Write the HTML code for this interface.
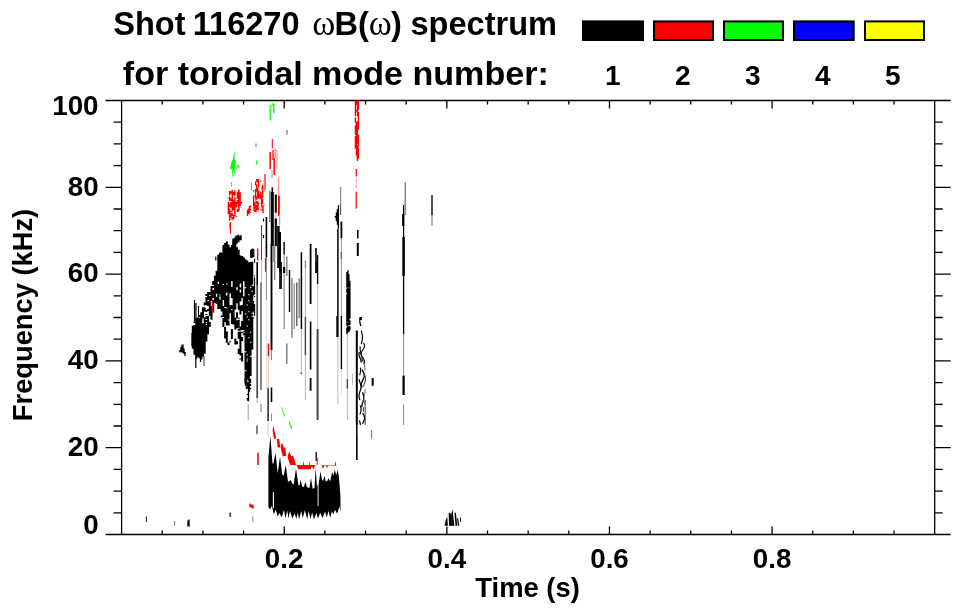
<!DOCTYPE html>
<html><head><meta charset="utf-8"><title>Shot 116270 spectrum</title>
<style>
html,body{margin:0;padding:0;background:#fff;}
svg{display:block;}
text{font-family:"Liberation Sans",sans-serif;font-weight:bold;fill:#000;}
.om{font-family:"Liberation Serif",serif;font-weight:normal;}
</style></head><body>
<svg width="963" height="615" viewBox="0 0 963 615">
<rect width="963" height="615" fill="#fff"/>
<text y="35" font-size="32.6"><tspan x="113.2">Shot </tspan><tspan x="192.7">116270 </tspan><tspan x="312.3" class="om" font-size="35">ω</tspan><tspan x="334.5">B(</tspan><tspan x="368.7" class="om" font-size="35">ω</tspan><tspan x="391">) </tspan><tspan x="410.4">spectrum</tspan></text>
<text x="122.8" y="85.3" font-size="34.1">for toroidal mode number:</text>
<rect x="583" y="21.4" width="60.0" height="18.6" fill="#000" stroke="#000" stroke-width="2"/>
<text x="612.8" y="85.2" font-size="28" text-anchor="middle">1</text>
<rect x="654" y="21.4" width="59.0" height="18.6" fill="#f00" stroke="#000" stroke-width="2"/>
<text x="682.8" y="85.2" font-size="28" text-anchor="middle">2</text>
<rect x="724" y="21.4" width="59.0" height="18.6" fill="#0f0" stroke="#000" stroke-width="2"/>
<text x="752.8" y="85.2" font-size="28" text-anchor="middle">3</text>
<rect x="794" y="21.4" width="59.7" height="18.6" fill="#00f" stroke="#000" stroke-width="2"/>
<text x="822.8" y="85.2" font-size="28" text-anchor="middle">4</text>
<rect x="865" y="21.4" width="59.0" height="18.6" fill="#ff0" stroke="#000" stroke-width="2"/>
<text x="892.8" y="85.2" font-size="28" text-anchor="middle">5</text>
<g stroke="#000" stroke-width="1.3" fill="none" stroke-linecap="butt">
<path d="M121.6 100.5H934.7M121.6 534.5H934.7M121.6 100.5V534.5M934.7 100.5V534.5"/>
<path d="M162.25 534.5v-4M162.25 100.5v4M202.91 534.5v-4M202.91 100.5v4M243.56 534.5v-4M243.56 100.5v4M284.22 534.5v-8M284.22 100.5v8M324.88 534.5v-4M324.88 100.5v4M365.53 534.5v-4M365.53 100.5v4M406.19 534.5v-4M406.19 100.5v4M446.84 534.5v-8M446.84 100.5v8M487.50 534.5v-4M487.50 100.5v4M528.15 534.5v-4M528.15 100.5v4M568.81 534.5v-4M568.81 100.5v4M609.46 534.5v-8M609.46 100.5v8M650.12 534.5v-4M650.12 100.5v4M690.77 534.5v-4M690.77 100.5v4M731.43 534.5v-4M731.43 100.5v4M772.08 534.5v-8M772.08 100.5v8M812.74 534.5v-4M812.74 100.5v4M853.39 534.5v-4M853.39 100.5v4M894.05 534.5v-4M894.05 100.5v4M121.6 534.50h-16M934.7 534.50h16M121.6 512.80h-8M934.7 512.80h8M121.6 491.10h-8M934.7 491.10h8M121.6 469.40h-8M934.7 469.40h8M121.6 447.70h-16M934.7 447.70h16M121.6 426.00h-8M934.7 426.00h8M121.6 404.30h-8M934.7 404.30h8M121.6 382.60h-8M934.7 382.60h8M121.6 360.90h-16M934.7 360.90h16M121.6 339.20h-8M934.7 339.20h8M121.6 317.50h-8M934.7 317.50h8M121.6 295.80h-8M934.7 295.80h8M121.6 274.10h-16M934.7 274.10h16M121.6 252.40h-8M934.7 252.40h8M121.6 230.70h-8M934.7 230.70h8M121.6 209.00h-8M934.7 209.00h8M121.6 187.30h-16M934.7 187.30h16M121.6 165.60h-8M934.7 165.60h8M121.6 143.90h-8M934.7 143.90h8M121.6 122.20h-8M934.7 122.20h8M121.6 100.50h-16M934.7 100.50h16"/>
</g>
<text x="98.6" y="533.8" font-size="27.8" text-anchor="end">0</text>
<text x="98.6" y="455.9" font-size="27.8" text-anchor="end">20</text>
<text x="98.6" y="369.1" font-size="27.8" text-anchor="end">40</text>
<text x="98.6" y="282.3" font-size="27.8" text-anchor="end">60</text>
<text x="98.6" y="195.5" font-size="27.8" text-anchor="end">80</text>
<text x="98.6" y="115.3" font-size="27.8" text-anchor="end">100</text>
<text x="284.2" y="568.4" font-size="27.8" text-anchor="middle">0.2</text>
<text x="446.8" y="568.4" font-size="27.8" text-anchor="middle">0.4</text>
<text x="609.5" y="568.4" font-size="27.8" text-anchor="middle">0.6</text>
<text x="772.1" y="568.4" font-size="27.8" text-anchor="middle">0.8</text>
<text x="527.6" y="597.2" font-size="27.4" text-anchor="middle">Time (s)</text>
<text transform="translate(32 315) rotate(-90)" font-size="27.3" text-anchor="middle">Frequency (kHz)</text>
<g id="spectrum">
<path d="M268.4 507.0L268.4 445.0L268.4 457.5L270.4 436.0L272.4 462.7L273.3 464.2L275.5 452.7L277.7 472.8L277.8 473.0L280.0 456.4L282.2 474.3L283.6 475.7L285.8 464.9L288.0 481.8L289.2 481.2L290.5 480.0L291.8 482.4L293.6 484.8L296.0 468.6L298.4 485.1L299.3 486.1L300.7 479.8L302.1 486.2L303.9 487.0L305.4 481.7L306.9 487.0L309.4 488.3L311.0 478.0L312.6 488.7L314.5 488.0L315.7 467.7L316.9 486.6L318.8 483.2L320.4 471.4L322.0 479.5L323.1 481.1L324.5 476.0L325.9 481.4L327.3 481.1L328.5 478.0L329.7 481.1L330.6 479.9L332.0 472.0L333.4 475.4L333.4 475.9L334.8 469.5L336.2 475.3L336.3 475.0L337.6 470.0L338.9 476.8L338.6 474.0L339.6 485.0L340.4 496.0L340.6 512.0L339.4 506.3L337.2 513.8L334.9 509.7L333.5 514.2L331.9 511.6L330.2 517.8L328.5 511.1L326.8 517.2L324.9 511.5L322.6 518.3L320.2 512.8L317.9 518.4L316.4 512.9L314.0 519.2L312.1 512.5L310.6 519.1L308.6 510.9L307.3 519.3L304.9 510.2L302.7 518.1L301.2 511.1L299.1 519.6L297.7 512.4L296.4 519.1L294.7 513.4L292.3 518.3L289.9 511.0L288.6 518.5L287.2 510.5L285.5 518.5L284.0 509.8L281.7 517.5L279.4 513.1L277.7 516.6L275.8 509.4L273.8 514.4L271.9 505.7L270.0 509.5Z" fill="#000"/>
<path d="M272.6 430.4L273.5 426.0L276.2 438.4L274.0 438.9Z" fill="#f00"/>
<path d="M276.7 439.1L279.1 438.9L280.4 447.4L277.7 447.6Z" fill="#f00"/>
<path d="M280.9 444.9L282.2 443.1L283.6 447.2L285.3 447.7L286.2 455.9L282.7 456.2L280.9 448.4Z" fill="#f00"/>
<path d="M287.9 455.3L289.3 451.4L291.1 456.0L293.2 456.0L296.1 464.9L290.2 464.9L287.6 457.5Z" fill="#f00"/>
<path d="M296.6 465.1L303.0 465.1L303.6 460.7L304.3 465.1L308.9 465.1L309.4 460.7L310.1 465.1L315.2 465.1L313.8 469.2L311.8 466.5L310.5 469.2L298.1 469.2Z" fill="#f00"/>
<path d="M316.3 464.9L317.2 456.4L318.5 460.0L317.6 464.9Z" fill="#f55"/>
<path d="M321.7 465.3L328.1 465.3L327.1 468.8L326.3 465.8L325.3 465.8L324.3 465.8L323.0 469.2Z" fill="#f00"/>
<path d="M328.1 464.9L334.6 464.9L335.4 460.7L336.2 465.5L328.1 465.5Z" fill="#f00"/>
<path d="M288.9 421.7L289.7 421.2L291.0 425.4L292.2 426.2L291.8 429.6L291.0 429.1L290.2 425.8L289.2 423.7Z" fill="#0f0"/>
<path d="M444.5 525.7L445.5 521.0L447.3 516.6L447.9 525.7Z" fill="#000"/>
<path d="M448.7 512.8L450.5 512.8L452.2 525.7L449.0 525.7Z" fill="#000"/>
<path d="M451.0 515.5L452.4 509.2L453.0 514.0L454.4 525.7L452.0 525.7L451.3 520.0Z" fill="#000"/>
<path d="M454.5 512.8L455.9 512.8L457.2 525.7L455.5 525.7Z" fill="#000"/>
<path d="M457.0 518.2L458.1 518.2L459.3 525.7L457.9 525.7Z" fill="#000"/>
<path d="M460.0 517.4L460.9 517.4L460.9 522.0L460.0 522.0Z" fill="#000"/>
<path d="M230.0 169.2L231.5 161.8L232.9 159.6L233.9 153.2L234.8 152.3L234.5 159.6L235.9 160.7L235.2 166.2L234.5 169.2L235.2 173.2L234.4 173.9L233.0 169.9L232.6 177.2L232.0 177.2L232.2 168.6L230.7 169.3Z" fill="#0f0"/>
<path d="M236.1 169.3L236.5 165.9L238.4 164.8L239.2 167.0L238.4 168.6L238.0 166.4L237.0 167.0L236.7 169.6Z" fill="#0f0"/>
<path d="M255.9 160.7L257.2 160.4L256.8 164.8L256.1 164.5Z" fill="#0f0"/>
<path d="M230.9 182.3L232.1 182.0L231.8 186.7L231.1 186.4Z" fill="#0f0"/>
<path d="M192.8 325.8V348.7M194.5 321.9V322.9M194.5 324.9V354.7M196.2 318.2V358.7M197.9 317.7V357.2M199.6 315.0V317.0M199.6 318.0V358.3M201.3 312.2V359.5M203.0 307.2V318.2M203.0 323.2V356.7M204.7 302.6V305.6M204.7 307.6V311.6M204.7 317.6V353.8M206.4 293.9V295.9M206.4 296.9V304.9M206.4 309.9V311.9M206.4 313.9V314.9M206.4 315.9V318.9M206.4 319.9V321.9M206.4 322.9V323.9M206.4 324.9V341.4M208.1 291.9V299.9M208.1 300.9V305.9M208.1 308.9V310.9M208.1 315.9V334.2M209.8 291.9V294.9M209.8 295.9V315.9M209.8 321.9V326.8M211.5 286.0V301.0M211.5 306.0V319.8M213.2 281.0V285.0M213.2 286.0V288.0M213.2 290.0V298.0M213.2 300.0V312.5M214.9 275.8V303.0M216.6 270.7V293.7M216.6 296.7V303.8M218.3 254.8V281.8M218.3 283.8V309.0M220.0 252.4V294.4M220.0 295.4V296.4M220.0 299.4V309.1M221.7 252.4V311.4M221.7 315.4V317.2M223.4 244.9V283.9M223.4 284.9V299.9M223.4 305.9V316.9M223.4 317.9V326.9M225.1 242.9V306.9M225.1 307.9V321.9M225.1 326.9V338.4M226.8 241.5V283.5M226.8 284.5V292.5M226.8 295.5V307.5M226.8 308.5V325.5M226.8 331.5V342.7M228.5 244.6V319.6M228.5 320.6V325.6M228.5 342.6V345.0M230.2 247.3V293.3M230.2 305.3V313.3M230.2 341.3V342.3M231.9 245.0V281.0M231.9 287.0V298.0M231.9 305.0V309.0M231.9 310.0V324.0M231.9 329.0V339.0M233.6 240.5V324.5M235.3 243.6V309.6M235.3 317.6V329.6M235.3 338.6V344.6M237.0 247.2V287.2M237.0 290.2V303.2M237.0 312.2V318.2M237.0 320.2V328.2M237.0 341.2V344.2M238.7 249.8V309.8M238.7 317.8V318.8M238.7 319.8V327.8M238.7 328.8V330.8M238.7 331.8V338.8M238.7 348.8V354.0M240.4 255.6V283.6M240.4 287.6V289.6M240.4 292.6V301.6M240.4 305.6V314.6M240.4 326.6V330.6M240.4 331.6V355.6M240.4 358.6V359.6M242.1 256.0V298.0M242.1 305.0V311.0M242.1 321.0V330.0M242.1 332.0V333.0M242.1 337.0V341.0M242.1 353.0V361.5M243.8 257.3V281.3M243.8 296.3V330.3M243.8 331.3V332.3M243.8 333.3V335.3M245.5 259.3V287.3M245.5 288.3V313.3M245.5 314.3V351.3M245.5 352.3V370.3M245.5 371.3V383.4M247.2 260.5V304.5M247.2 305.5V316.5M247.2 317.5V325.5M247.2 326.5V354.5M247.2 355.5V358.5M247.2 359.5V360.5M247.2 361.5V379.5M248.9 262.3V294.3M248.9 295.3V300.3M248.9 301.3V311.3M248.9 312.3V319.3M248.9 320.3V337.3M248.9 338.3V381.2M250.6 261.7V286.7M250.6 287.7V331.7M250.6 332.7V341.7M250.6 342.7V355.7M250.6 356.7V376.0M252.3 261.8V284.8M252.3 285.8V290.8M252.3 291.8V312.8M252.3 313.8V315.8M252.3 316.8V349.4M275.8 194.6V212.8M280.0 232.0V272.0M357.8 243.0V256.0M360.8 317.0V320.0M356.8 330.5V425.0M372.7 378.0V385.7" stroke="#000" stroke-width="2.0" fill="none"/>
<path d="M245.5 378.5V385.9M246.5 378.8V384.8M246.5 385.8V388.9M247.5 382.0V388.8M247.5 393.9V395.0M247.5 397.9V400.7M248.5 378.1V381.1M248.5 382.1V401.2M249.5 379.3V391.7M250.5 378.7V383.1M250.5 384.1V385.9M250.5 388.0V389.1M233.0 238.4V246.2M234.0 238.6V246.0M235.0 237.5V244.1M236.0 235.6V244.5M237.0 235.7V243.4M238.0 234.4V242.6M239.0 235.2V241.7M240.0 236.4V240.2M241.0 234.9V240.2M180.0 350.0V352.4M181.0 347.0V352.0M182.0 344.7V352.5M183.0 344.5V352.9M184.0 348.5V354.0M185.0 352.0V355.9M250.7 250.0V257.6M251.7 249.0V258.1M252.7 248.4V257.3M253.7 249.3V257.1M188.0 520.4V526.4M189.0 519.6V526.4M335.4 215.9V217.8M336.4 212.6V221.0M337.4 209.2V224.7M338.4 205.3V228.8M346.9 272.1V287.4M346.9 288.4V293.2M346.9 294.2V325.7M346.9 327.5V334.2M347.9 270.3V321.8M347.9 322.8V332.4M348.9 274.3V287.2M348.9 288.2V325.2M348.9 326.2V332.1M349.9 280.8V318.5M349.9 320.2V325.3M349.9 326.3V330.5" stroke="#000" stroke-width="1.35" fill="none"/>
<path d="M248.2 404.0V420.0" stroke="#999" stroke-width="1" fill="none"/>
<path d="M194.5 300.0V322.0M196.0 303.0V320.0M198.5 306.0V318.0M215.8 256.4V260.4M192.0 333.0V346.0M195.8 358.0V368.0M200.5 356.0V362.0M263.5 218.5V221.6M263.5 235.0V238.0M403.6 205.0V237.0" stroke="#000" stroke-width="1.2" fill="none"/>
<path d="M204.0 356.0V366.0" stroke="#555" stroke-width="1.2" fill="none"/>
<path d="M253.6 286.0V295.6M253.6 301.0V311.6M253.6 317.4V318.4M254.6 258.7V262.7M254.6 275.5V276.5M254.6 277.5V294.3M254.6 296.0V297.0M254.6 303.9V315.9" stroke="#000" stroke-width="1.1" fill="none"/>
<path d="M318.1 481.0V506.0" stroke="#fff" stroke-width="0.9" fill="none"/>
<path d="M273.4 492.0V508.0" stroke="#fff" stroke-width="1.1" fill="none"/>
<path d="M318.3 470.0V481.0" stroke="#fff" stroke-width="0.5" fill="none"/>
<path d="M316.2 452.0V461.0M268.1 387.6V421.0M317.6 255.0V284.0M341.4 252.0V259.0M403.6 276.0V334.0" stroke="#000" stroke-width="1.3" fill="none"/>
<path d="M258.0 452.7V465.0" stroke="#f00" stroke-width="1.6" fill="none"/>
<path d="M250.0 503.5V506.9M251.0 504.4V507.6M252.0 504.6V507.9M253.0 504.9V508.8M253.6 189.9V191.5M253.6 195.8V205.9M254.6 195.3V196.3M254.6 202.0V208.8M255.6 181.6V185.4M255.6 189.1V199.6M255.6 200.6V201.6M255.6 202.6V203.6M255.6 204.6V207.3M256.6 179.1V181.7M256.6 184.2V191.5M256.6 196.5V199.7M256.6 200.9V203.7M256.6 204.7V209.4M257.6 179.2V182.5M257.6 187.8V198.5M257.6 201.2V208.9M258.6 178.9V187.4M258.6 190.5V198.8M258.6 202.4V204.3M258.6 208.7V209.8M259.6 194.2V197.5M260.6 180.8V181.8M260.6 191.4V199.0M261.6 187.4V188.4M261.6 193.4V194.4M261.6 195.4V205.9M261.6 206.9V207.4M262.6 184.8V197.7M262.6 198.7V204.2M247.5 209.7V216.1M248.5 208.6V214.1M249.5 205.7V212.7M249.5 213.7V214.5M250.5 205.5V207.4M250.5 208.7V210.5M250.5 211.9V212.9M250.5 214.7V214.8M254.0 205.8V211.3M255.0 206.6V207.8M255.0 209.5V212.0M256.0 207.1V212.0M257.0 205.7V206.7M257.0 207.7V210.3M258.0 204.3V210.3M258.0 211.4V212.0M261.0 209.5V210.5M261.0 212.5V212.8M262.0 205.9V206.9M262.0 209.1V210.1M263.0 205.7V213.3M264.0 204.8V205.8" stroke="#f00" stroke-width="1.35" fill="none"/>
<path d="M281.8 407.2V408.9M282.2 408.3V410.0M282.5 409.4V411.1M282.9 410.5V412.2M283.2 411.5V413.2M283.6 412.6V414.3M283.9 413.7V415.4M284.3 414.8V416.5" stroke="#3f3" stroke-width="0.9" fill="none"/>
<path d="M146.4 516.6V522.0" stroke="#333" stroke-width="1.2" fill="none"/>
<path d="M174.6 521.0V525.6M261.0 404.0V412.0M284.1 273.0V329.0M294.2 283.5V329.0M340.6 187.0V204.0M371.5 430.0V438.7" stroke="#888" stroke-width="1.2" fill="none"/>
<path d="M230.2 512.5V517.0" stroke="#222" stroke-width="1.4" fill="none"/>
<path d="M252.8 516.6V522.0" stroke="#999" stroke-width="1.2" fill="none"/>
<path d="M257.0 425.6V434.0" stroke="#555" stroke-width="1.5" fill="none"/>
<path d="M228.4 197.5V198.5M228.4 201.7V214.3M229.7 190.9V195.4M229.7 196.5V201.1M229.7 203.6V207.2M229.7 208.5V220.8M231.0 191.2V193.7M231.0 198.3V201.0M231.0 202.0V207.8M231.0 211.1V212.2M231.0 213.3V217.4M231.0 222.4V222.7M232.3 190.0V211.6M232.3 213.3V215.9M232.3 216.9V219.8M233.6 191.9V195.2M233.6 199.8V210.1M233.6 214.7V219.0M233.6 220.0V220.6M234.9 190.3V195.8M234.9 197.2V216.4M236.2 201.7V207.4M236.2 215.9V216.8M237.5 191.7V199.1M237.5 200.1V204.2M237.5 205.2V206.2M237.5 208.7V212.1M238.8 189.6V211.4M240.1 192.2V205.9M240.1 206.9V207.2M241.4 201.8V203.8M270.2 152.0V169.0M274.2 158.0V175.0M212.4 300.4V312.4" stroke="#f00" stroke-width="1.5" fill="none"/>
<path d="M230.3 222.0V233.0M272.3 139.0V148.6M261.5 225.0V260.0M230.5 224.0V234.0" stroke="#f00" stroke-width="1" fill="none"/>
<path d="M229.6 223.0V228.0M251.5 183.0V190.0" stroke="#f66" stroke-width="1" fill="none"/>
<path d="M265.0 174.0V190.0M356.2 191.6V208.4" stroke="#f00" stroke-width="1.2" fill="none"/>
<path d="M264.0 180.0V192.0" stroke="#f88" stroke-width="1" fill="none"/>
<path d="M273.0 150.0V160.0M257.7 248.4V260.4M355.4 100.5V116.3M355.4 117.3V123.0M355.4 125.6V135.0M355.4 136.1V148.4M356.4 100.5V105.0M356.4 110.1V111.8M356.4 122.0V155.5M356.4 156.5V156.9M357.4 100.5V116.3M357.4 121.2V144.2M357.4 145.6V161.1M358.4 100.5V110.0M358.4 112.1V129.8M358.4 135.1V146.8M358.4 147.8V158.7M356.4 169.0V176.6" stroke="#f00" stroke-width="1.3" fill="none"/>
<path d="M275.2 148.6V158.0" stroke="#f55" stroke-width="1" fill="none"/>
<path d="M277.0 150.0V169.0M278.4 177.5V196.0" stroke="#f99" stroke-width="1.2" fill="none"/>
<path d="M272.0 170.0V178.0" stroke="#f77" stroke-width="1" fill="none"/>
<path d="M278.9 195.7V216.0" stroke="#f00" stroke-width="1.9" fill="none"/>
<path d="M279.6 214.0V225.5" stroke="#f88" stroke-width="1.3" fill="none"/>
<path d="M261.5 260.0V287.0M355.4 205.0V209.0" stroke="#faa" stroke-width="1" fill="none"/>
<path d="M265.6 257.5V271.8M268.4 343.6V356.0" stroke="#f00" stroke-width="1.4" fill="none"/>
<path d="M268.4 356.0V388.5" stroke="#fbb" stroke-width="1.2" fill="none"/>
<path d="M356.2 179.0V188.0" stroke="#f99" stroke-width="1" fill="none"/>
<path d="M270.2 104.7V120.6" stroke="#0f0" stroke-width="1.3" fill="none"/>
<path d="M273.8 104.0V113.0" stroke="#0f0" stroke-width="1.4" fill="none"/>
<path d="M272.8 103.0V106.0" stroke="#0f0" stroke-width="1" fill="none"/>
<path d="M256.0 143.4V147.0" stroke="#88f" stroke-width="1.5" fill="none"/>
<path d="M287.0 130.0V134.6M286.8 256.5V276.0M291.9 278.0V338.0M405.3 182.0V215.0" stroke="#888" stroke-width="1.5" fill="none"/>
<path d="M257.2 285.0V398.0" stroke="#444" stroke-width="1.7" fill="none"/>
<path d="M257.2 398.0V403.0M275.8 212.8V218.5" stroke="#bbb" stroke-width="1.2" fill="none"/>
<path d="M257.2 262.0V285.0M266.4 217.0V257.0M271.5 387.6V402.0M272.3 187.5V193.0M280.0 272.0V289.0M310.6 321.5V369.4M316.0 248.0V262.0M356.8 436.0V460.0" stroke="#000" stroke-width="1.6" fill="none"/>
<path d="M261.0 282.5V390.0" stroke="#888" stroke-width="2.0" fill="none"/>
<path d="M266.4 257.0V300.0M271.5 350.0V360.0M271.5 413.6V421.0M284.1 254.5V267.0M403.6 334.0V375.0M403.6 404.5V425.0" stroke="#888" stroke-width="1" fill="none"/>
<path d="M266.4 300.0V388.0" stroke="#ddd" stroke-width="0.9" fill="none"/>
<path d="M268.1 421.0V436.0" stroke="#bbb" stroke-width="0.8" fill="none"/>
<path d="M269.8 191.0V222.0" stroke="#777" stroke-width="1.4" fill="none"/>
<path d="M271.5 244.0V350.0" stroke="#000" stroke-width="1.9" fill="none"/>
<path d="M272.3 192.0V246.0" stroke="#000" stroke-width="3.0" fill="none"/>
<path d="M273.2 246.0V262.0M274.7 246.0V280.0" stroke="#888" stroke-width="1.4" fill="none"/>
<path d="M275.8 218.5V246.0M284.1 267.0V273.0M403.6 375.4V395.0M403.2 214.0V226.0" stroke="#000" stroke-width="2.2" fill="none"/>
<path d="M278.4 226.0V268.0" stroke="#000" stroke-width="2.4" fill="none"/>
<path d="M281.2 262.0V289.0M284.1 242.0V254.5M289.5 270.0V312.0M301.4 372.0V374.0M337.0 316.0V337.0M341.4 316.0V369.0" stroke="#000" stroke-width="1.4" fill="none"/>
<path d="M286.8 343.4V364.0M299.2 278.4V318.0" stroke="#888" stroke-width="1.6" fill="none"/>
<path d="M296.8 282.5V326.0" stroke="#444" stroke-width="1.2" fill="none"/>
<path d="M301.4 252.3V329.0M337.9 229.0V337.0M357.8 230.0V238.6M356.8 425.0V436.0" stroke="#000" stroke-width="1.5" fill="none"/>
<path d="M301.4 329.0V373.5M317.6 284.0V329.0M337.9 337.0V404.0M347.4 334.0V420.0M352.5 373.5V385.0" stroke="#bbb" stroke-width="1" fill="none"/>
<path d="M305.4 260.6V268.0M432.0 205.0V225.5" stroke="#888" stroke-width="1.3" fill="none"/>
<path d="M305.4 268.0V317.0M305.4 355.0V400.0" stroke="#bbb" stroke-width="1.1" fill="none"/>
<path d="M305.4 317.0V355.0M347.4 379.3V388.6" stroke="#444" stroke-width="1.4" fill="none"/>
<path d="M310.6 244.0V304.0M310.6 378.0V390.7M316.0 262.0V273.0M341.4 221.6V238.3" stroke="#000" stroke-width="1.8" fill="none"/>
<path d="M317.6 329.0V420.0" stroke="#444" stroke-width="2.0" fill="none"/>
<path d="M340.6 204.0V215.0M365.2 400.0V425.0" stroke="#444" stroke-width="1.0" fill="none"/>
<path d="M341.4 238.3V316.0" stroke="#888" stroke-width="0.9" fill="none"/>
<path d="M341.4 369.0V395.0" stroke="#ddd" stroke-width="1" fill="none"/>
<path d="M403.6 237.0V276.0" stroke="#000" stroke-width="2.6" fill="none"/>
<path d="M432.0 195.0V215.0" stroke="#444" stroke-width="1.8" fill="none"/>
<path d="M360.2 317.0L359.9 318.5L359.8 320.0L359.8 321.5L360.0 323.0L360.4 324.5L360.8 326.0" stroke="#000" stroke-width="1.2628386544140762" fill="none"/>
<path d="M361.3 330.6L361.7 332.1L362.0 333.6L362.3 335.1L362.4 336.6L362.4 338.1L362.3 339.6L362.0 341.1L361.7 342.6L361.2 344.1" stroke="#000" stroke-width="1.1725613685935714" fill="none"/>
<path d="M360.1 346.5L360.1 348.0L360.2 349.5L360.4 351.0L360.7 352.5L361.1 354.0L361.5 355.5L361.8 357.0L362.1 358.5L362.2 360.0L362.3 361.5" stroke="#000" stroke-width="1.121179389876622" fill="none"/>
<path d="M363.5 343.0L364.3 344.5L364.6 346.0L364.2 347.5L363.4 349.0L362.4 350.5L361.5 352.0L361.0 353.5L361.2 355.0L362.0 356.5L363.0 358.0L364.0 359.5L364.5 361.0L364.5 362.5L363.8 364.0" stroke="#000" stroke-width="1.0841334374826392" fill="none"/>
<path d="M362.1 369.6L362.8 371.1L363.6 372.6L364.1 374.1L364.3 375.6L364.1 377.1L363.5 378.6L362.7 380.1L362.0 381.6L361.5 383.1L361.3 384.6L361.5 386.1L362.1 387.6" stroke="#000" stroke-width="1.3550909661528003" fill="none"/>
<path d="M362.6 392.2L363.0 393.7L363.5 395.2L363.7 396.7L363.8 398.2L363.6 399.7L363.2 401.2L362.7 402.7L362.2 404.2L361.9 405.7L361.8 407.2" stroke="#000" stroke-width="1.244636546506793" fill="none"/>
<path d="M362.8 413.1L363.6 414.6L364.2 416.1L364.5 417.6L364.5 419.1L364.0 420.6L363.3 422.1L362.5 423.6" stroke="#000" stroke-width="1.2713241781374438" fill="none"/>
<path d="M359.4 352.0L359.0 353.5L359.0 355.0L359.4 356.5L360.1 358.0L360.7 359.5L361.1 361.0L361.0 362.5" stroke="#000" stroke-width="1.2498816185261734" fill="none"/>
<path d="M360.5 367.6L360.7 369.1L360.6 370.6L360.4 372.1L360.1 373.6L359.7 375.1" stroke="#000" stroke-width="1.0844899268774437" fill="none"/>
<path d="M359.0 379.1L359.3 380.6L359.8 382.1L360.4 383.6L360.8 385.1L361.0 386.6L360.9 388.1L360.6 389.6L360.1 391.1L359.6 392.6L359.2 394.1L359.0 395.6L359.1 397.1L359.4 398.6L360.0 400.1" stroke="#000" stroke-width="1.1886495401756807" fill="none"/>
<path d="M360.1 405.4L360.7 406.9L361.1 408.4L361.1 409.9L360.9 411.4L360.4 412.9L359.8 414.4" stroke="#000" stroke-width="1.2111269809839846" fill="none"/>
<path d="M359.5 420.4L359.8 421.9L360.2 423.4L360.5 424.9" stroke="#000" stroke-width="1.2437277998070324" fill="none"/>
<path d="M363.8 360.0L363.8 361.5L364.0 363.0L364.3 364.5L364.6 366.0L364.9 367.5L365.0 369.0L364.9 370.5" stroke="#444" stroke-width="0.8619889083209642" fill="none"/>
<path d="M364.2 373.1L364.7 374.6L365.1 376.1L365.4 377.6L365.5 379.1L365.3 380.6L364.9 382.1L364.4 383.6L363.9 385.1L363.5 386.6" stroke="#444" stroke-width="1.1060650410021753" fill="none"/>
<path d="M364.9 389.2L365.1 390.7L365.0 392.2L364.7 393.7L364.2 395.2L363.9 396.7L363.7 398.2L363.8 399.7L364.1 401.2L364.6 402.7L364.9 404.2" stroke="#444" stroke-width="0.8424733169726121" fill="none"/>
<path d="M363.6 407.2L363.4 408.7L363.4 410.2L363.6 411.7" stroke="#444" stroke-width="1.1201791354171864" fill="none"/>
</g>
</svg>
</body></html>
